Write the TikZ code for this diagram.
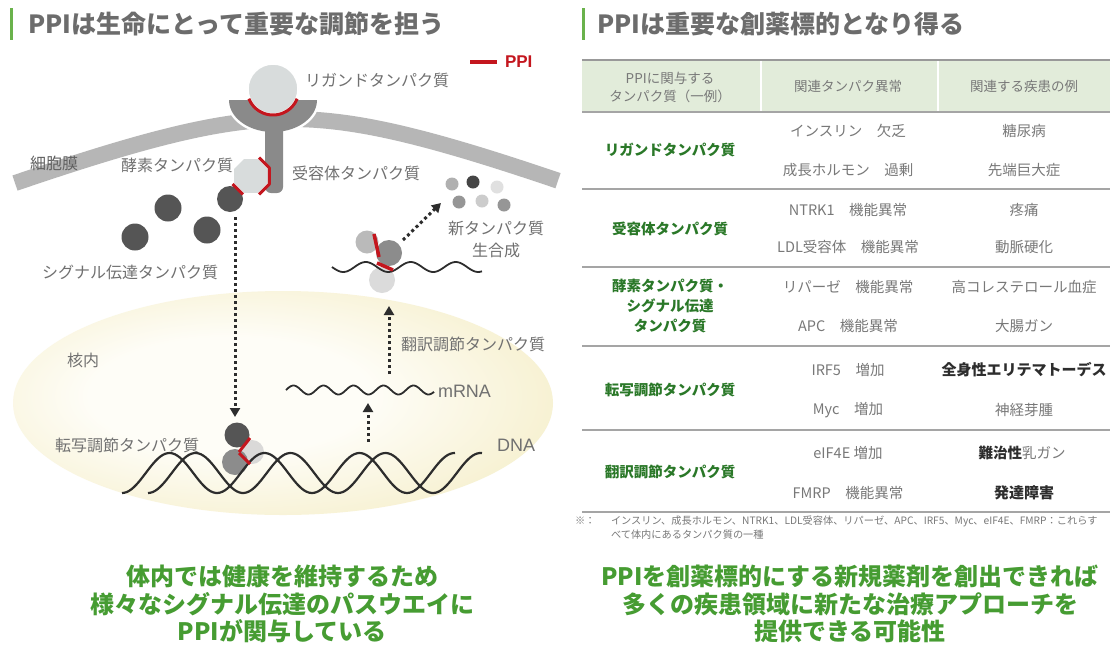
\documentclass[tikz,border=0pt]{standalone}
\usepackage{fontspec}
\setmainfont{Noto Sans CJK JP}
\newfontfamily\latinsans{Liberation Sans}
\usetikzlibrary{arrows.meta}

\definecolor{ttl}{RGB}{108,108,108}
\definecolor{bar}{RGB}{106,178,76}
\definecolor{lbl}{RGB}{112,112,112}
\definecolor{memtext}{RGB}{96,96,96}
\definecolor{ppired}{RGB}{196,22,30}
\definecolor{memb}{RGB}{182,182,182}
\definecolor{recep}{RGB}{138,138,138}
\definecolor{pale}{RGB}{216,220,220}
\definecolor{dark}{RGB}{85,85,85}
\definecolor{arr}{RGB}{45,45,45}
\definecolor{nucin}{RGB}{254,253,247}
\definecolor{nucout}{RGB}{238,226,163}
\definecolor{hdr}{RGB}{226,236,218}
\definecolor{rule}{RGB}{165,165,165}
\definecolor{cell}{RGB}{120,120,120}
\definecolor{tgreen}{RGB}{42,120,40}
\definecolor{bgreen}{RGB}{70,156,50}
\definecolor{strong}{RGB}{45,45,45}

\pgfdeclareradialshading{nucleus}{\pgfpoint{-6bp}{2bp}}{color(0bp)=(nucin); color(13bp)=(nucin); color(50bp)=(nucout); color(75bp)=(nucout)}

\begin{document}
\begin{tikzpicture}[x=1pt,y=-1pt,
  every node/.style={inner sep=0pt,outer sep=0pt},
  heading/.style={anchor=west,text=ttl,font=\fontsize{25}{28}\selectfont\bfseries},
  lab/.style={anchor=west,text=lbl,font=\fontsize{16}{22}\selectfont},
  latinlab/.style={anchor=west,text=lbl,font=\latinsans\fontsize{18}{20}\selectfont},
  ball/.style={circle,minimum size=#1},
  dotarrow/.style={draw=arr,line width=3pt,dash pattern=on 3pt off 3pt,-{Triangle[width=10pt,length=9pt]}},
  ppiline/.style={draw=ppired,line width=3pt},
  strand/.style={draw=strong,line width=2.2pt},
  hd/.style={text=cell,font=\fontsize{13.5}{18}\selectfont,align=center},
  cell/.style={text=cell,font=\fontsize{14.5}{18}\selectfont},
  grn/.style={text=tgreen,font=\fontsize{14.5}{20}\selectfont\bfseries,align=center},
  bold/.style={text=strong,font=\fontsize{15}{18}\selectfont\bfseries},
  rowrule/.style={draw=rule,line width=2pt},
  foot/.style={anchor=west,text=cell,font=\fontsize{10.2}{12}\selectfont},
  bottomtext/.style={text=bgreen,font=\fontsize{24}{27.5}\selectfont\bfseries,align=center}]

\fill[white] (0,0) rectangle (1110,651);
\useasboundingbox (0,0) rectangle (1110,651);

% ---------- headings ----------
\fill[bar] (10,8) rectangle (13,40);
\node[heading] (t1) at (28,24) {PPIは生命にとって重要な調節を担う};
\fill[bar] (582,8) rectangle (585,40);
\node[heading] (t2) at (597,24) {PPIは重要な創薬標的となり得る};

% legend
\coordinate (leg1) at (470,62);
\coordinate (leg2) at (497,62);
\draw[ppiline,line width=3.5pt] (leg1) -- (leg2);
\node[anchor=west,text=ppired,font=\latinsans\bfseries\fontsize{17}{20}\selectfont] (legt) at (505,62) {PPI};

% ---------- nucleus ----------
\shade[shading=nucleus] (283,403) ellipse [x radius=270pt, y radius=112pt];

% ---------- cell membrane ----------
\draw[draw=memb,line width=16pt] plot[domain=15:558,samples=110,smooth] (\x,{119+56*(sqrt(1+((\x-290)/145)^2)-1)});
\node[lab,text=memtext] (memlab) at (30,163) {細胞膜};

% ---------- receptor ----------
\path[draw=white,line width=5pt] plot[domain=0:180,samples=40] ({273+44*cos(\x)},{100+32*sin(\x)}) -- cycle;
\path[draw=white,line width=5pt,rounded corners=6pt] (265,100) rectangle (283,193);
\path[fill=recep] plot[domain=0:180,samples=40] ({273+44*cos(\x)},{100+32*sin(\x)}) -- cycle;
\path[fill=recep,rounded corners=6pt] (265,100) rectangle (283,193);

% ligand
\node[ball=50pt,fill=pale,draw=white,line width=1.5pt] (lig) at (273,89) {};
\draw[ppiline] plot[domain=22:158,samples=30] ({273+26*cos(\x)},{89+26*sin(\x)});

% enzyme bound to the receptor, with its partner
\node[ball=26pt,fill=dark] (s0) at (230,199) {};
\coordinate (enz) at (251,176);
\path[fill=pale,draw=white,line width=1pt] (268.55,183.27) -- (258.27,193.55) -- (243.73,193.55) -- (233.45,183.27) -- (233.45,168.73) -- (243.73,158.45) -- (258.27,158.45) -- (268.55,168.73) -- cycle;
\draw[ppiline,line join=round] (259,157.6) -- (269.4,168) -- (269.4,184) -- (259,194.4);
\draw[ppiline] (232.6,184) -- (243,194.4);

% signalling proteins
\node[ball=27pt,fill=dark] (s1) at (168,208) {};
\node[ball=27pt,fill=dark] (s2) at (135,237) {};
\node[ball=27pt,fill=dark] (s3) at (207,230) {};

% labels
\node[lab] (liglab) at (305,80) {リガンドタンパク質};
\node[lab] (reclab) at (292,173) {受容体タンパク質};
\node[lab] (enzlab) at (121,165) {酵素タンパク質};
\node[lab] (siglab) at (42,272) {シグナル伝達タンパク質};
\node[lab,anchor=center,align=center] (newlab) at (496,239) {新タンパク質\\生合成};
\node[lab] (nuclab) at (67,360) {核内};
\node[lab] (trlab) at (401,344) {翻訳調節タンパク質};
\node[latinlab] (mrnalab) at (438,391) {mRNA};
\node[latinlab] (dnalab) at (497,445) {DNA};
\node[lab] (tflab) at (55,445) {転写調節タンパク質};

% signal into the nucleus
\coordinate (d1) at (235,217);
\coordinate (d2) at (235,417);
\draw[dotarrow] (d1) -- (d2);

% transcription factor complex on DNA
\node[ball=24pt,fill=black!18,opacity=0.8] (tfc) at (252,452) {};
\node[ball=26pt,fill=black!45] (tfb) at (235,462) {};
\draw[strand] plot[domain=122:455,samples=140,smooth] (\x,{473+20*cos(3.78947*(\x-122))});
\draw[strand] plot[domain=148:482,samples=140,smooth] (\x,{473+20*cos(3.78947*(\x-148))});
\node[ball=25pt,fill=dark] (tfa) at (237,435) {};
\draw[ppiline] (250,438) -- (239,452);
\draw[ppiline] (239,453) -- (250,464);

% mRNA in the nucleus
\draw[strand,line width=1.8pt] plot[domain=286:434,samples=90,smooth] (\x,{390-4.5*sin(12*(\x-286))});
\coordinate (u1) at (368,442);
\coordinate (u2) at (368,403);
\draw[dotarrow] (u1) -- (u2);
\coordinate (u3) at (389,374);
\coordinate (u4) at (389,306);
\draw[dotarrow] (u3) -- (u4);

% ribosome on mRNA
\node[ball=26pt,fill=black!14] (rb3) at (382,280) {};
\node[ball=23pt,fill=black!27] (rb1) at (367,242) {};
\node[ball=26pt,fill=black!45] (rb2) at (389,253) {};
\draw[strand,line width=1.8pt] plot[domain=332:482,samples=90,smooth] (\x,{267+5*sin(8*(\x-332))});
\draw[ppiline,line width=3.5pt] (374,234) -- (379,257);
\draw[ppiline,line width=3.5pt] (377,263) -- (393,270);
\coordinate (u5) at (403,240);
\coordinate (u6) at (441,203);
\draw[dotarrow] (u5) -- (u6);

% newly made proteins
\node[ball=13pt,fill=black!31] (p1) at (452,184) {};
\node[ball=13pt,fill=black!73] (p2) at (473,182) {};
\node[ball=13pt,fill=black!12] (p3) at (497,187) {};
\node[ball=13pt,fill=black!41] (p4) at (459,202) {};
\node[ball=13pt,fill=black!20] (p5) at (482,201) {};
\node[ball=13pt,fill=black!41] (p6) at (504,205) {};

% ---------- table ----------
\fill[hdr] (582,61) rectangle (1110,111);
\draw[white,line width=1.5pt] (761,61) -- (761,111);
\draw[white,line width=1.5pt] (938,61) -- (938,111);
\draw[rowrule,line width=2.5pt,draw=black!40] (582,60) -- (1110,60);
\draw[rowrule] (582,112) -- (1110,112);
\draw[rowrule] (582,189) -- (1110,189);
\draw[rowrule] (582,267) -- (1110,267);
\draw[rowrule] (582,346) -- (1110,346);
\draw[rowrule] (582,430) -- (1110,430);
\draw[rowrule] (582,512) -- (1110,512);

\node[hd] (h1) at (670,87) {PPIに関与する\\タンパク質（一例）};
\node[hd] (h2) at (848,86) {関連タンパク異常};
\node[hd] (h3) at (1024,86) {関連する疾患の例};

\node[grn] (r1) at (670,150) {リガンドタンパク質};
\node[cell] (r1b) at (848,131) {インスリン　欠乏};
\node[cell] (r1c) at (848,170) {成長ホルモン　過剰};
\node[cell] (r1d) at (1024,131) {糖尿病};
\node[cell] (r1e) at (1024,170) {先端巨大症};

\node[grn] (r2) at (670,229) {受容体タンパク質};
\node[cell] (r2b) at (848,210) {NTRK1　機能異常};
\node[cell] (r2c) at (848,247) {LDL受容体　機能異常};
\node[cell] (r2d) at (1024,210) {疼痛};
\node[cell] (r2e) at (1024,247) {動脈硬化};

\node[grn] (r3) at (670,306) {酵素タンパク質・\\シグナル伝達\\タンパク質};
\node[cell] (r3b) at (848,287) {リパーゼ　機能異常};
\node[cell] (r3c) at (848,326) {APC　機能異常};
\node[cell] (r3d) at (1024,287) {高コレステロール血症};
\node[cell] (r3e) at (1024,326) {大腸ガン};

\node[grn] (r4) at (670,390) {転写調節タンパク質};
\node[cell] (r4b) at (848,370) {IRF5　増加};
\node[cell] (r4c) at (848,410) {Myc　増加};
\node[bold] (r4d) at (1024,370) {全身性エリテマトーデス};
\node[cell] (r4e) at (1024,410) {神経芽腫};

\node[grn] (r5) at (670,472) {翻訳調節タンパク質};
\node[cell] (r5b) at (848,453) {eIF4E 増加};
\node[cell] (r5c) at (848,493) {FMRP　機能異常};
\node[cell] (r5d) at (1022,453) {{\bfseries\color{strong}難治性}乳ガン};
\node[bold] (r5e) at (1024,493) {発達障害};

\node[foot] (fn0) at (575,521) {※：};
\node[foot] (fn1) at (611,521) {インスリン、成長ホルモン、NTRK1、LDL受容体、リパーゼ、APC、IRF5、Myc、eIF4E、FMRP：これらす};
\node[foot] (fn2) at (611,535) {べて体内にあるタンパク質の一種};

% ---------- conclusions ----------
\node[bottomtext] (bl) at (282,604) {体内では健康を維持するため\\様々なシグナル伝達のパスウエイに\\PPIが関与している};
\node[bottomtext] (br) at (850,604) {PPIを創薬標的にする新規薬剤を創出できれば\\多くの疾患領域に新たな治療アプローチを\\提供できる可能性};

\end{tikzpicture}
\end{document}
